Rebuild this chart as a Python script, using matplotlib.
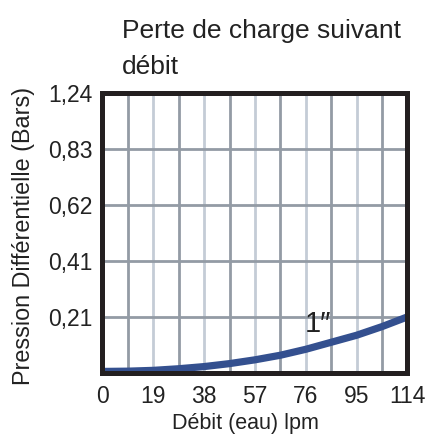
import numpy as np
import matplotlib
matplotlib.use("Agg")
import matplotlib.pyplot as plt

plt.rcParams["font.family"] = ["Liberation Sans", "DejaVu Sans"]

# courbe de perte de charge, raccord 1"
debit = [0, 9.5, 19, 28.5, 38, 47.5, 57, 66.5, 76, 85.5, 95, 104.5, 114]
pression = [0.004, 0.005, 0.008, 0.014, 0.022, 0.033, 0.047, 0.064, 0.086, 0.112, 0.138, 0.170, 0.206]

x_ticks = [0, 19, 38, 57, 76, 95, 114]
x_minor = [9.5, 28.5, 47.5, 66.5, 85.5, 104.5]
y_ticks = [0, 0.207, 0.414, 0.621, 0.828, 1.035]
y_labels = ["", "0,21", "0,41", "0,62", "0,83", "1,24"]

fig = plt.figure(figsize=(4.35, 4.36), dpi=100)
ax = fig.add_axes([0.2356, 0.1456, 0.701, 0.641])

ax.set_xlim(0, 114)
ax.set_ylim(0, 1.035)

dark = "#939ba5"
light = "#c4ccd6"
for x in x_minor:
    ax.axvline(x, color=dark, lw=2, zorder=1)
for x in x_ticks[1:-1]:
    ax.axvline(x, color=light, lw=2, zorder=1)
for y in y_ticks[1:-1]:
    ax.axhline(y, color=dark, lw=2, zorder=1)

ax.plot(debit, pression, color="#34508f", lw=5.2, solid_capstyle="butt", zorder=3)
ax.text(80.5, 0.178, "1\u2033", fontsize=21, ha="center", va="center", color="#222222", zorder=4)

ax.set_xticks(x_ticks)
ax.set_xticklabels([str(v) for v in x_ticks])
ax.set_yticks(y_ticks)
ax.set_yticklabels(y_labels)
ax.tick_params(length=0, labelsize=16.5, colors="#222222")
ax.tick_params(axis="x", pad=9)
ax.tick_params(axis="y", pad=7)

for s in ax.spines.values():
    s.set_linewidth(3.6)
    s.set_color("#231f20")
    s.set_zorder(5)

ax.set_xlabel("Débit (eau) lpm", fontsize=15.5, color="#222222")
ax.xaxis.set_label_coords(0.47, -0.184)
ax.xaxis.label.set_va("center")
ax.set_ylabel("Pression Différentielle (Bars)", fontsize=16.8, color="#222222")
ax.yaxis.set_label_coords(-0.26, 0.49)
ax.yaxis.label.set_va("center")

fig.text(122 / 435, 1 - 49 / 436, "Perte de charge suivant\ndébit", fontsize=19,
         ha="left", va="center", color="#222222", linespacing=1.6)

fig.savefig("out.png", dpi=100)
